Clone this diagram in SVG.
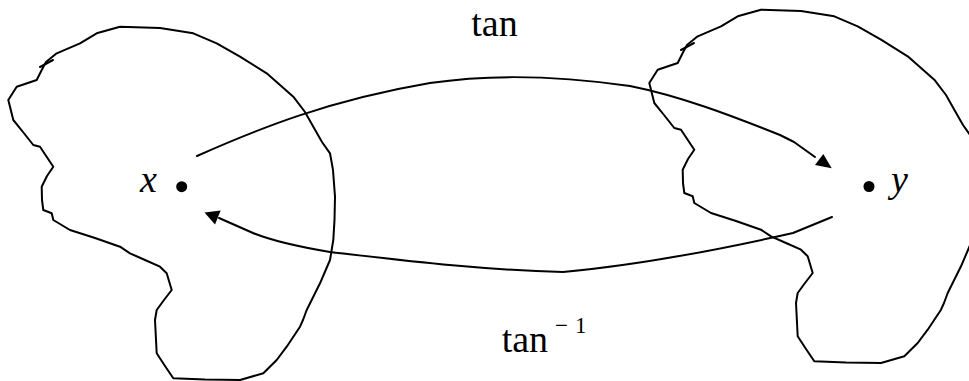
<svg xmlns="http://www.w3.org/2000/svg" xmlns:xlink="http://www.w3.org/1999/xlink" width="969" height="381" viewBox="0 0 969 381">
<style>
.line{fill:none;stroke:#000;stroke-width:2;stroke-linejoin:round;stroke-linecap:round}
.head{fill:#000;stroke:none}
.dot{fill:#000}
.lbl{font-family:'Liberation Serif','DejaVu Serif',serif;font-size:38px;fill:#000}
.it{font-style:italic}
.sup{font-size:23px}
</style>
<defs>
<g id="blob">
<path class="line" d="M120,26.7 L160,28 L193.3,33.3 L216.7,43.3 L240,56.7 L266.7,73.3 L293.3,96.7 L305,112 L313.3,126.7 L322,142 L330,153.3 L333,170 L335,196.7 L334.5,220 L333.3,240 L330,260 L320,283.3 L306.7,310 L303,320 L300,326.7 L286.7,346.7 L276.7,360 L263.3,373.3 L240,380 L205,379.5 L173.3,378.3 L165,366 L156.7,353.3 L155,320 L156.7,310 L164,300 L171.7,290 L166.7,273.3 L160,266.7 L145,260 L130,253.3 L120,246.7 L95,238 L70,230 L53.3,220 L51.7,213.3 L43.3,210 L42,200 L41.7,186.7 L47,176 L53.3,166.7 L40,146.7 L33.3,145 L23,132 L13.3,120 L8.3,100 L16.7,86.7 L36.7,80 L41.7,70 L46,62 L56.7,53.3 L80,43.3 L96.7,33.3 Z"/>
<path class="line" d="M40,67 L53,60"/>
</g>
</defs>
<g id="set-x">
<use xlink:href="#blob"/>
<circle class="dot" cx="181.7" cy="186.7" r="5.5"/>
<text class="lbl it" font-family="Liberation Serif" x="140" y="192">x</text>
</g>
<g id="set-y">
<use xlink:href="#blob" transform="translate(641,-17)"/>
<circle class="dot" cx="869" cy="186.5" r="5.5"/>
<text class="lbl it" font-family="Liberation Serif" x="891" y="192">y</text>
</g>
<g id="connectors">
<path class="line" d="M197,156 C260,128 330,100 430,83 C490,74 560,76 630,86 C680,96 730,115 780,135 L794,142 L815,157"/>
<polygon class="head" points="831.7,168.3 815,165 823.3,154"/>
<path class="line" d="M832,217 L793,233 C740,245 650,264 563,272 C480,270 400,260 330,252 C300,247 275,242 253,233 L219,218"/>
<polygon class="head" points="204.5,212.5 220.7,210.5 215,224.5"/>
</g>
<g id="labels">
<text class="lbl" x="494.5" y="36" text-anchor="middle">tan</text>
<text class="lbl" x="501.7" y="351.7">tan</text>
<text class="lbl sup" x="555" y="332.7">−</text>
<text class="lbl sup" x="575" y="332.7">1</text>
</g>
</svg>
